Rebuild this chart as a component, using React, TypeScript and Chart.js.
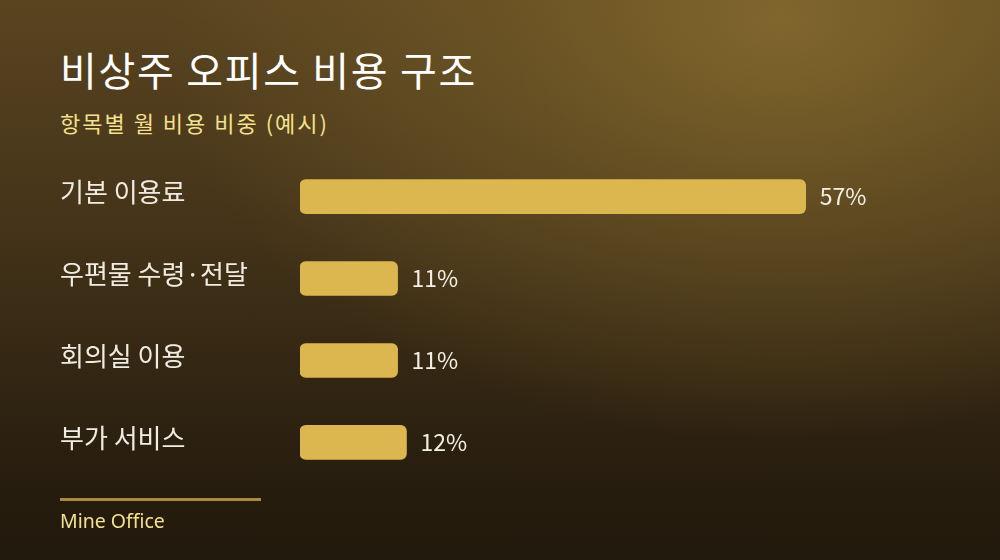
import React, { useEffect, useRef } from 'react';
import Chart from 'chart.js/auto';

const categories = ['기본 이용료', '우편물 수령·전달', '회의실 이용', '부가 서비스'];
const shares = [57, 11, 11, 12];
const valueLabels = ['57%', '11%', '11%', '12%'];

const FONT = '"Noto Sans CJK KR", "Noto Sans", sans-serif';
const LATIN = '"Noto Sans", "Noto Sans CJK KR", sans-serif';

const valueLabelPlugin = {
  id: 'valueLabels',
  afterDatasetsDraw(chart: any) {
    const ctx = chart.ctx;
    const meta = chart.getDatasetMeta(0);
    ctx.save();
    ctx.font = `23px ${FONT}`;
    ctx.fillStyle = '#f4efe4';
    ctx.textAlign = 'left';
    ctx.textBaseline = 'middle';
    meta.data.forEach((bar: any, i: number) => {
      ctx.fillText(valueLabels[i], bar.x + 14, bar.y);
    });
    ctx.restore();
  },
};

const CostChart: React.FC = () => {
  const chartRef = useRef<HTMLCanvasElement>(null);
  const chartInstance = useRef<Chart | null>(null);

  useEffect(() => {
    if (!chartRef.current) return;
    if (chartInstance.current) chartInstance.current.destroy();
    const ctx = chartRef.current.getContext('2d');
    if (!ctx) return;

    chartInstance.current = new Chart(ctx, {
      type: 'bar',
      data: {
        labels: categories,
        datasets: [
          {
            data: shares,
            backgroundColor: '#dcb64f',
            borderRadius: 6,
            borderSkipped: false,
            barThickness: 34,
          },
        ],
      },
      options: {
        indexAxis: 'y',
        animation: false,
        responsive: false,
        maintainAspectRatio: false,
        layout: { padding: 0 },
        plugins: {
          legend: { display: false },
          tooltip: { enabled: false },
        },
        scales: {
          x: {
            display: false,
            min: 0,
            max: 70,
          },
          y: {
            grid: { display: false, drawTicks: false },
            border: { display: false },
            afterFit: (scale: any) => {
              scale.width = 240;
            },
            ticks: {
              crossAlign: 'far',
              padding: 0,
              labelOffset: -4,
              color: '#f1ece2',
              font: { family: FONT, size: 26 },
            },
          },
        },
      },
      plugins: [valueLabelPlugin],
    });

    return () => {
      if (chartInstance.current) {
        chartInstance.current.destroy();
        chartInstance.current = null;
      }
    };
  }, []);

  return (
    <canvas
      ref={chartRef}
      width={861}
      height={359}
      style={{ position: 'absolute', left: 60, top: 140, width: 861, height: 359 }}
    />
  );
};

export default function App() {
  return (
    <div
      style={{
        position: 'fixed',
        left: 0,
        top: 0,
        width: 1000,
        height: 560,
        overflow: 'hidden',
        fontFamily: FONT,
        background:
          'radial-gradient(ellipse 620px 420px at 780px 20px, rgba(132,106,46,0.9) 0%, rgba(120,95,40,0.55) 45%, rgba(90,70,30,0) 100%), ' +
          'linear-gradient(180deg, #5a4420 0%, #47361a 35%, #342713 65%, #261c0e 88%, #221a0d 100%)',
      }}
    >
      <div
        style={{
          position: 'absolute',
          left: 60,
          top: 43,
          fontSize: 40,
          letterSpacing: 1.7,
          color: '#ffffff',
          fontWeight: 400,
          lineHeight: '52px',
          whiteSpace: 'nowrap',
        }}
      >
        비상주 오피스 비용 구조
      </div>
      <div
        style={{
          position: 'absolute',
          left: 60,
          top: 107,
          fontSize: 22,
          letterSpacing: 2,
          color: '#f3e18e',
          lineHeight: '30px',
          whiteSpace: 'nowrap',
        }}
      >
        항목별 월 비용 비중 (예시)
      </div>
      <CostChart />
      <div
        style={{
          position: 'absolute',
          left: 60,
          top: 498,
          width: 201,
          height: 3,
          background: '#a98a3f',
        }}
      />
      <div
        style={{
          position: 'absolute',
          left: 60,
          top: 508,
          fontSize: 19.5,
          fontFamily: LATIN,
          color: '#f3e18e',
          lineHeight: '26px',
          whiteSpace: 'nowrap',
        }}
      >
        Mine Office
      </div>
    </div>
  );
}
